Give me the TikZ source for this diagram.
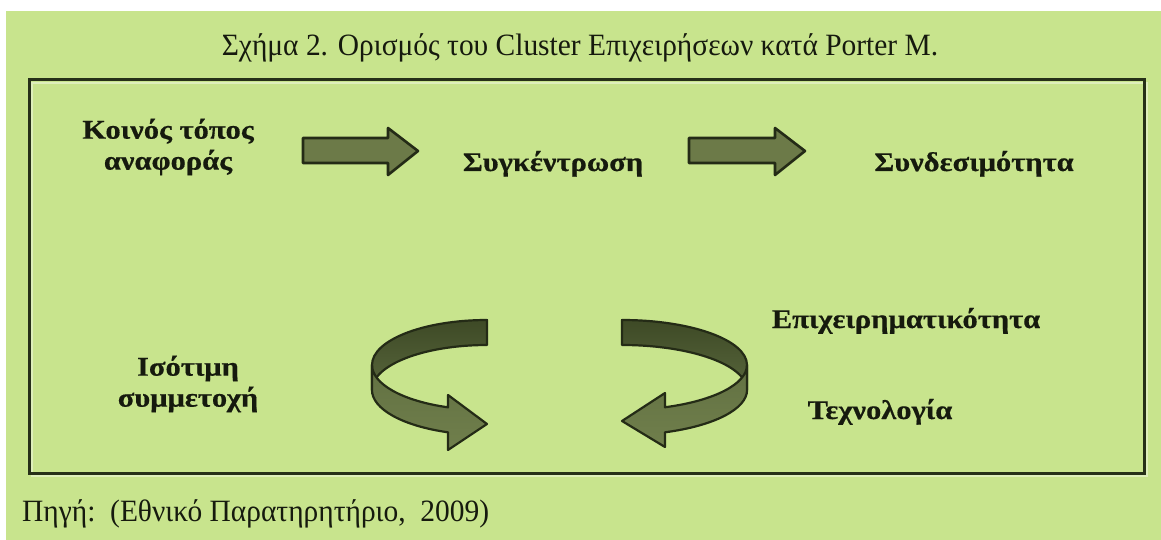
\documentclass[tikz,border=0pt]{standalone}
\usepackage{fontspec}
\setmainfont{Liberation Serif}
\newfontfamily\captionfont[FakeStretch=0.95]{Liberation Serif}
\newfontfamily\termfont[FakeStretch=1.13, FakeBold=0.5]{Liberation Serif}

\definecolor{panelgreen}{RGB}{200,228,141}
\definecolor{framedark}{RGB}{38,48,24}
\definecolor{arrowfill}{RGB}{108,122,72}
\definecolor{arrowline}{RGB}{36,43,22}
\definecolor{ringbacktop}{RGB}{62,74,38}
\definecolor{ringbackbot}{RGB}{88,102,60}
\definecolor{ringfronttop}{RGB}{98,113,66}
\definecolor{ringfrontbot}{RGB}{112,127,76}
\definecolor{inkdark}{RGB}{22,26,14}

\tikzset{
  captiontext/.style={font=\captionfont\fontsize{31}{36}\selectfont, text=inkdark, inner sep=0pt},
  termtext/.style={font=\termfont\bfseries\fontsize{27}{31}\selectfont, text=inkdark, inner sep=0pt, align=center},
  blockarrow/.style={fill=arrowfill, draw=arrowline, line width=2.6pt, line join=round},
  ringback/.style={top color=ringbacktop, bottom color=ringbackbot, draw=arrowline, line width=2.2pt, line join=round},
  ringfront/.style={top color=ringfronttop, bottom color=ringfrontbot, draw=arrowline, line width=2.2pt, line join=round},
  frame/.style={draw=framedark, line width=3pt},
}

\begin{document}
\begin{tikzpicture}[x=1pt,y=-1pt]
  % page and panel
  \useasboundingbox (0,0) rectangle (1161,540);
  \fill[white] (0,0) rectangle (1161,540);
  \fill[panelgreen] (6,11) rectangle (1161,540);

  % caption above the frame
  \node[captiontext, anchor=base] (title) at (580,56)
    {Σχήμα 2. Ορισμός του Cluster Επιχειρήσεων κατά Porter M.};

  % frame with a soft shadow
  \draw[white!40!panelgreen, line width=2pt] (32,83) rectangle (1147,476);
  \draw[frame] (29,80) rectangle (1144,473);

  % top row of terms
  \node[termtext] (koinos) at (168,147) {Κοινός τόπος\\αναφοράς};
  \node[termtext, anchor=base] (sygk) at (553,171) {Συγκέντρωση};
  \node[termtext, anchor=base] (synd) at (974,171) {Συνδεσιμότητα};

  % block arrows between the terms
  \draw[blockarrow] (303,138) -- (388,138) -- (388,128) -- (418,151)
    -- (388,175) -- (388,163) -- (303,163) -- cycle;
  \draw[blockarrow] (689,138) -- (775,138) -- (775,128) -- (805,151)
    -- (775,175) -- (775,163) -- (689,163) -- cycle;

  % left ring arrow: inner (back) face, then outer (front) face with head
  \draw[ringback] (487,320) arc[start angle=270, end angle=180, x radius=115, y radius=45]
    -- (372,390) arc[start angle=180, end angle=270, x radius=115, y radius=45] -- cycle;
  \draw[ringfront] (372,365) arc[start angle=180, end angle=109.8, x radius=115, y radius=45]
    -- (448,395) -- (487,424) -- (448,450) -- (448,432.3)
    arc[start angle=109.8, end angle=180, x radius=115, y radius=45] -- cycle;

  % right ring arrow, mirrored
  \draw[ringback] (622,320) arc[start angle=270, end angle=360, x radius=125, y radius=45]
    -- (747,390) arc[start angle=360, end angle=270, x radius=125, y radius=45] -- cycle;
  \draw[ringfront] (747,365) arc[start angle=0, end angle=69.9, x radius=125, y radius=45]
    -- (665,393) -- (622,421) -- (665,447) -- (665,432.3)
    arc[start angle=69.9, end angle=0, x radius=125, y radius=45] -- cycle;

  % lower terms
  \node[termtext] (isot) at (188,384) {Ισότιμη\\συμμετοχή};
  \node[termtext, anchor=base] (epix) at (906,328) {Επιχειρηματικότητα};
  \node[termtext, anchor=base] (tech) at (880,419) {Τεχνολογία};

  % source line
  \node[captiontext, anchor=base west] (source) at (22,521)
    {Πηγή:\ \ (Εθνικό Παρατηρητήριο,\ \ 2009)};
\end{tikzpicture}
\end{document}
